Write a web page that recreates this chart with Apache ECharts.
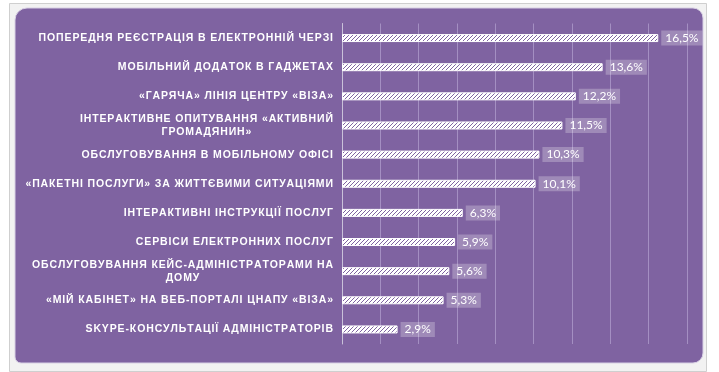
<!DOCTYPE html>
<html><head><meta charset="utf-8">
<script src="https://cdn.jsdelivr.net/npm/echarts@6/dist/echarts.min.js"></script>
<style>html,body{margin:0;padding:0;background:#fff}#c{width:719px;height:372px}</style>
</head><body><div id="c"></div>
<script>
const categories = [
  'ПОПЕРЕДНЯ РЕЄСТРАЦІЯ В ЕЛЕКТРОННІЙ ЧЕРЗІ',
  'МОБІЛЬНИЙ ДОДАТОК В ГАДЖЕТАХ',
  '«ГАРЯЧА» ЛІНІЯ ЦЕНТРУ «ВІЗА»',
  'ІНТЕРАКТИВНЕ ОПИТУВАННЯ «АКТИВНИЙ\nГРОМАДЯНИН»',
  'ОБСЛУГОВУВАННЯ В МОБІЛЬНОМУ ОФІСІ',
  '«ПАКЕТНІ ПОСЛУГИ» ЗА ЖИТТЄВИМИ СИТУАЦІЯМИ',
  'ІНТЕРАКТИВНІ ІНСТРУКЦІЇ ПОСЛУГ',
  'СЕРВІСИ ЕЛЕКТРОННИХ ПОСЛУГ',
  'ОБСЛУГОВУВАННЯ КЕЙС-АДМІНІСТРАТОРАМИ НА\nДОМУ',
  '«МІЙ КАБІНЕТ» НА ВЕБ-ПОРТАЛІ ЦНАПУ «ВІЗА»',
  'SKYPE-КОНСУЛЬТАЦІЇ АДМІНІСТРАТОРІВ'
];
const values = [16.5, 13.6, 12.2, 11.5, 10.3, 10.1, 6.3, 5.9, 5.6, 5.3, 2.9];

const purple = '#7f63a1';
// hatch pattern
const pc = document.createElement('canvas');
pc.width = 4; pc.height = 4;
const pctx = pc.getContext('2d');
pctx.fillStyle = '#ffffff';
pctx.fillRect(0, 0, 4, 4);
pctx.fillStyle = purple;
for (let i = 0; i < 4; i++) { pctx.fillRect(i, 3 - i, 1, 1); }

const chart = echarts.init(document.getElementById('c'), null, {renderer: 'canvas'});
function spaced(s) { return s.split('').join('\u200A'); }
chart.setOption({
  animation: false,
  backgroundColor: '#ffffff',
  graphic: [
    {type: 'rect', z: -10, shape: {x: 9.5, y: 3.5, width: 697, height: 368}, style: {fill: '#f2f2f2', stroke: '#cfcfcf', lineWidth: 1}},
    {type: 'rect', z: -9, shape: {x: 15, y: 8, width: 688, height: 355, r: [12, 10, 10, 6]}, style: {fill: purple, stroke: '#d8d0e4', lineWidth: 1}}
  ],
  grid: {left: 342, right: 32, top: 23.5, bottom: 28, containLabel: false, outerBoundsMode: 'none'},
  xAxis: {
    type: 'value', min: 0, max: 18, interval: 2,
    axisLabel: {show: false}, axisTick: {show: false}, axisLine: {show: false},
    splitLine: {show: true, lineStyle: {color: '#a48fc2', width: 1}}
  },
  yAxis: {
    type: 'category', data: categories, inverse: true,
    axisTick: {show: false},
    axisLine: {show: true, lineStyle: {color: '#c9c1d9', width: 1}},
    axisLabel: {
      margin: 9,
      formatter: function (v) { return v.split('\n').map(l => '{a|' + spaced(l) + '}').join('\n'); },
      rich: {a: {color: '#ffffff', fontFamily: 'Liberation Sans', fontWeight: 'bold', fontSize: 10.5, lineHeight: 13, align: 'center'}}
    }
  },
  series: [{
    type: 'bar', data: values, barWidth: 8,
    itemStyle: {color: {image: pc, repeat: 'repeat'}, borderColor: '#ffffff', borderWidth: 1},
    label: {
      show: true, position: 'right', distance: 3,
      formatter: p => String(p.value).replace('.', ',') + '%',
      color: '#ffffff', fontFamily: 'Lato', fontSize: 12,
      backgroundColor: 'rgba(255,255,255,0.25)', padding: [2, 4, 1, 4]
    }
  }]
});
</script></body></html>
